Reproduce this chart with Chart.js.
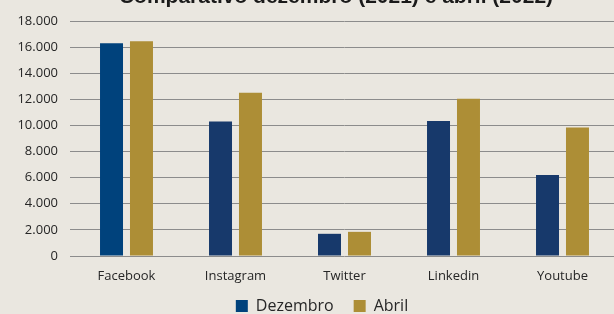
<!DOCTYPE html>
<html>
<head>
<meta charset="utf-8">
<script src="https://cdn.jsdelivr.net/npm/chart.js@4/dist/chart.umd.min.js"></script>
<style>
	html, body { margin: 0; padding: 0; background: #eae7e0; overflow: hidden; width: 614px; height: 314px; }
	#wrap { position: absolute; left: 0; top: -24px; }
</style>
</head>
<body>
<div id="wrap"><canvas id="graphicSocial" width="646" height="350"></canvas></div>
<script>
const titleText = 'Comparativo dezembro (2021) e abril (2022)';
const categories = ['Facebook', 'Instagram', 'Twitter', 'Linkedin', 'Youtube'];
const dezembro = [16300, 10300, 1700, 10350, 6200];
const abril = [16450, 12500, 1850, 12050, 9850];
const yMax = 18000;
const yStep = 2000;

function formatThousands(value) {
	return value.toString().replace(/\B(?=(\d{3})+(?!\d))/g, '.');
}

// title is drawn by hand so it can sit off-centre like in the original,
// the legend box is nudged right to the same spot and the x labels
// are allowed to spill a bit into the legend band
const layoutPlugin = {
	id: 'offsetTitle',
	afterLayout: function(chart) {
		if (chart.legend) {
			chart.legend.left += 27;
		}
		chart.scales.x.bottom += 12;
	},
	afterDraw: function(chart) {
		const ctx = chart.ctx;
		ctx.save();
		ctx.font = 'bold 21px "Liberation Sans", Arial, sans-serif';
		ctx.fillStyle = '#1a1a1a';
		ctx.textAlign = 'center';
		ctx.textBaseline = 'alphabetic';
		ctx.fillText(titleText, 336, 27);
		ctx.restore();
	}
};

const ctx = document.getElementById('graphicSocial').getContext('2d');

const graphicSocial = new Chart(ctx, {
	type: 'bar',
	data: {
		labels: categories,
		datasets: [{
			label: 'Dezembro',
			backgroundColor: function(c) {
				return (c.type === 'data' && c.dataIndex > 0) ? '#17396b' : '#00427c';
			},
			data: dezembro
		},
		{
			label: 'Abril',
			backgroundColor: '#ad8e36',
			data: abril
		}]
	},
	options: {
		responsive: false,
		animation: false,
		layout: { padding: { top: 45, right: 29, left: 0, bottom: 2 } },
		datasets: {
			bar: { categoryPercentage: 0.55, barPercentage: 0.767 }
		},
		scales: {
			x: {
				afterFit: function(scale) { scale.height = 22; },
				grid: { display: false, drawTicks: false },
				border: { display: false },
				ticks: {
					padding: 12,
					color: '#262626',
					font: { family: '"Open Sans", sans-serif', size: 13 }
				}
			},
			y: {
				min: 0,
				max: yMax,
				afterFit: function(scale) { scale.width = 72; },
				grid: { color: '#8c8c8c', lineWidth: 1, drawTicks: true, tickLength: 2 },
				border: { display: false },
				ticks: {
					stepSize: yStep,
					padding: 12,
					color: '#262626',
					font: { family: '"Open Sans", sans-serif', size: 13 },
					callback: function(value) { return formatThousands(value); }
				}
			}
		},
		plugins: {
			title: { display: false },
			tooltip: { enabled: false },
			legend: {
				position: 'bottom',
				labels: {
					boxWidth: 12,
					boxHeight: 12,
					padding: 20,
					color: '#262626',
					font: { family: '"Open Sans", sans-serif', size: 16 }
				}
			}
		}
	},
	plugins: [layoutPlugin]
});
</script>
</body>
</html>
